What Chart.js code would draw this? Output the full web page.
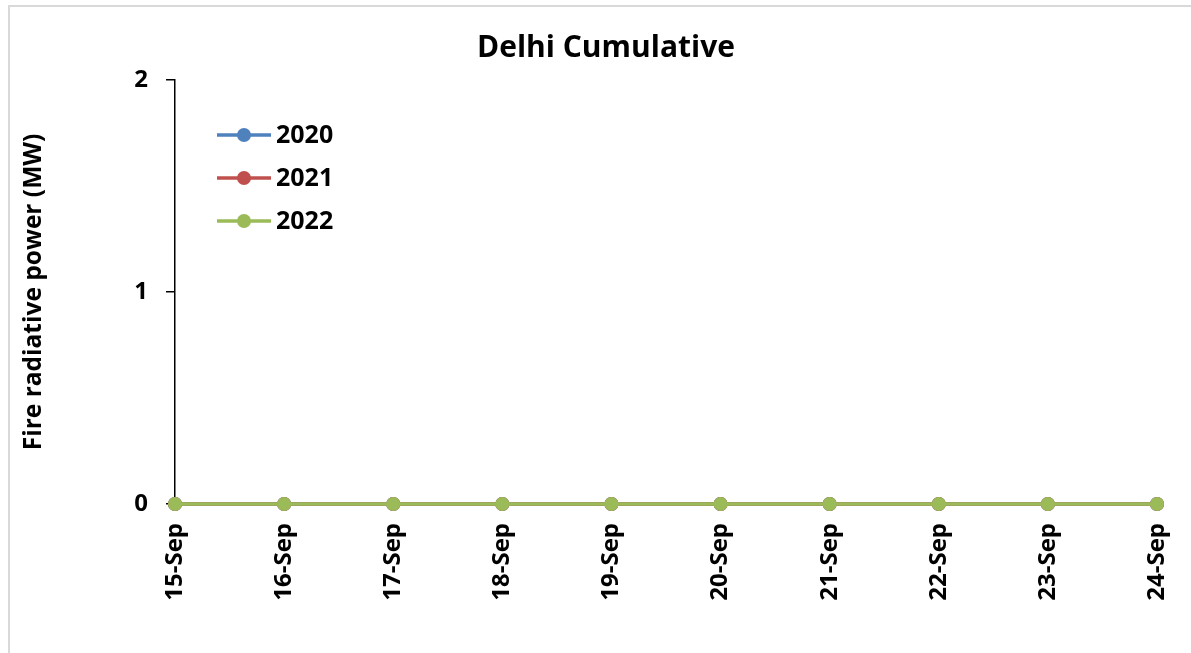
<!DOCTYPE html>
<html>
<head>
<meta charset="utf-8">
<script src="https://cdn.jsdelivr.net/npm/chart.js@4.4.1/dist/chart.umd.min.js"></script>
<style>
  html, body { margin: 0; padding: 0; background: #ffffff; }
  #wrap { position: relative; width: 1191px; height: 653px; }
</style>
</head>
<body>
<div id="wrap"><canvas id="c"></canvas></div>
<script>
const categories = ["15-Sep", "16-Sep", "17-Sep", "18-Sep", "19-Sep", "20-Sep", "21-Sep", "22-Sep", "23-Sep", "24-Sep"];
const seriesNames = ["2020", "2021", "2022"];
const values2020 = [0, 0, 0, 0, 0, 0, 0, 0, 0, 0];
const values2021 = [0, 0, 0, 0, 0, 0, 0, 0, 0, 0];
const values2022 = [0, 0, 0, 0, 0, 0, 0, 0, 0, 0];
const yTicks = [0, 1, 2];
const colors = ["#4F81BD", "#C0504D", "#9BBB59"];
const chartTitle = "Delhi Cumulative";
const yTitle = "Fire radiative power (MW)";

const FONT = "'Open Sans', 'Liberation Sans', sans-serif";

const framePlugin = {
  id: 'frame',
  beforeDraw(chart) {
    const ctx = chart.ctx;
    ctx.save();
    ctx.fillStyle = '#ffffff';
    ctx.fillRect(0, 0, chart.width, chart.height);
    ctx.strokeStyle = '#d9d9d9';
    ctx.lineWidth = 2;
    ctx.strokeRect(9, 6, chart.width + 20, chart.height + 20);
    ctx.restore();
  }
};

const titleLegendPlugin = {
  id: 'titleLegend',
  afterDraw(chart) {
    const ctx = chart.ctx;
    ctx.save();
    ctx.fillStyle = '#000';
    ctx.font = "bold 30px " + FONT;
    ctx.textAlign = 'center';
    ctx.textBaseline = 'middle';
    ctx.fillText(chartTitle, 606, 48);
    // legend
    const rows = [135, 178, 221];
    chart.data.datasets.forEach((ds, i) => {
      const y = rows[i];
      ctx.strokeStyle = ds.borderColor;
      ctx.lineWidth = 3.5;
      ctx.beginPath();
      ctx.moveTo(217, y);
      ctx.lineTo(271, y);
      ctx.stroke();
      ctx.fillStyle = ds.pointBackgroundColor;
      ctx.beginPath();
      ctx.arc(244, y, 7, 0, Math.PI * 2);
      ctx.fill();
      ctx.fillStyle = '#000';
      ctx.font = "bold 25px " + FONT;
      ctx.textAlign = 'left';
      ctx.fillText(ds.label, 276, y + 1);
    });
    ctx.restore();
  }
};

const seriesValues = [values2020, values2021, values2022];
const datasets = seriesNames.map((name, i) => ({
  label: name,
  data: seriesValues[i],
  order: seriesNames.length - 1 - i,
  borderColor: colors[i],
  backgroundColor: colors[i],
  pointBackgroundColor: colors[i],
  pointBorderColor: colors[i],
  pointRadius: 7,
  pointBorderWidth: 0,
  borderWidth: 3.5,
  tension: 0,
  clip: false,
  fill: false
}));

new Chart(document.getElementById('c'), {
  type: 'line',
  data: { labels: categories, datasets: datasets },
  plugins: [framePlugin, titleLegendPlugin],
  options: {
    responsive: true,
    maintainAspectRatio: false,
    animation: false,
    devicePixelRatio: 1,
    layout: { padding: { top: 80, right: 34, left: 0, bottom: 0 } },
    plugins: {
      legend: { display: false },
      title: { display: false },
      tooltip: { enabled: false }
    },
    scales: {
      x: {
        type: 'category',
        offset: false,
        afterFit(scale) {
          scale.height = 149;
          scale.paddingLeft = 0;
          scale.paddingRight = 0;
        },
        grid: { drawOnChartArea: false, drawTicks: true, tickLength: 6, tickColor: '#000', lineWidth: 1.5 },
        border: { display: true, color: '#000', width: 1.5 },
        ticks: {
          color: '#000',
          font: { family: FONT, size: 24, weight: 'bold' },
          minRotation: 90,
          maxRotation: 90,
          padding: 13,
          autoSkip: false
        }
      },
      y: {
        min: 0,
        max: 2,
        afterFit(scale) {
          scale.width = 175;
          scale.paddingTop = 0;
          scale.paddingBottom = 0;
        },
        afterBuildTicks(scale) { scale.ticks = yTicks.map(v => ({ value: v })); },
        grid: { drawOnChartArea: false, drawTicks: true, tickLength: 9, tickColor: '#000', lineWidth: 1.5 },
        border: { display: true, color: '#000', width: 1.5 },
        ticks: {
          color: '#000',
          font: { family: FONT, size: 24, weight: 'bold' },
          padding: 18
        },
        title: {
          display: true,
          text: yTitle,
          color: '#000',
          font: { family: FONT, size: 24.5, weight: 'bold' },
          padding: { top: 19, bottom: 0 }
        }
      }
    }
  }
});
</script>
</body>
</html>
